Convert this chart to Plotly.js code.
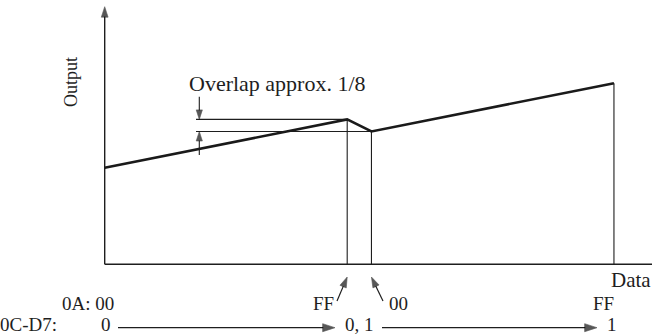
<!DOCTYPE html>
<html><head><meta charset="utf-8">
<script src="https://cdn.plot.ly/plotly-3.0.1.min.js"></script>
<style>html,body{margin:0;padding:0;background:#fff}#chart{width:652px;height:335px}</style>
</head><body><div id="chart"></div>
<script>
// ---- data (Data input in segment units, Output level) ----
const dataX = [0, 1, 1.1, 2.1];
const outputY = [2, 3, 2.75, 3.75];
// ---- text ----
const axisTitleY = 'Output';
const axisTitleX = 'Data';
const overlapNote = 'Overlap approx. 1/8';
const rowA = '0A: 00';
const rowATicks = ['FF', '00', 'FF'];
const rowCLabel = '0C-D7:';
const rowCTicks = ['0', '0, 1', '1'];

// ---- layout helpers (pixel -> data for decorations) ----
const X0PX = 104.7, XUNIT = 242.5, Y0PX = 264.3, YUNIT = 48.3;
const W = 652, H = 335;
const X = px => (px - X0PX) / XUNIT;
const Y = py => (Y0PX - py) / YUNIT;
const xRange = [X(0), X(W)];
const yRange = [Y(H), Y(0)];

const INK = '#1e1e1e';
const FONT = 'Liberation Serif, Times New Roman, serif';

function seg(xs, ys, w) {
  return {type:'scatter', mode:'lines', x:xs, y:ys, line:{color:INK, width:w},
          hoverinfo:'skip', showlegend:false, cliponaxis:false};
}
function arrow(xs, ys, w, size) {
  return {type:'scatter', mode:'lines+markers', x:xs, y:ys,
          line:{color:INK, width:w},
          marker:{symbol:['circle','arrow'], size:[0,size], angleref:'previous', color:'#111',
                  line:{width:0.6, color:'#111'}},
          hoverinfo:'skip', showlegend:false, cliponaxis:false};
}

const traces = [];
// axes
traces.push(arrow([0, 0], [0, Y(6.7)], 1.4, 11));
traces.push(seg([0, xRange[1]], [0, 0], 1.4));
// vertical drop lines from key points
[1, 2, 3].forEach(i => traces.push(seg([dataX[i], dataX[i]], [0, outputY[i]], 1.1)));
// overlap dimension lines
const dimX = X(196), dimArrowX = X(199.3);
traces.push(seg([dimX, dataX[1]], [outputY[1], outputY[1]], 1.1));
traces.push(seg([dimX, dataX[2]], [outputY[2], outputY[2]], 1.1));
traces.push(arrow([dimArrowX, dimArrowX], [Y(96.7), outputY[1]], 1.1, 10));
traces.push(arrow([dimArrowX, dimArrowX], [Y(155), outputY[2]], 1.1, 10));
// main output line
traces.push({type:'scatter', mode:'lines', x:dataX, y:outputY,
  line:{color:'#1a1a1a', width:2.6}, hoverinfo:'skip', showlegend:false, cliponaxis:false});
// pointer arrows (FF / 00 boundaries)
traces.push(arrow([X(337), dataX[1]], [Y(301), Y(277)], 1.2, 11));
traces.push(arrow([X(383), dataX[2]], [Y(301), Y(277)], 1.2, 11));
// range arrows in 0C-D7 row
const rowCY = Y(327.7);
traces.push(arrow([X(118), X(335)], [rowCY, rowCY], 1.2, 13));
traces.push(arrow([X(382), X(597)], [rowCY, rowCY], 1.2, 13));

function txt(text, x, y, xanchor, size, extra) {
  return Object.assign({text:text, x:x, y:y, xref:'x', yref:'y', showarrow:false,
    borderpad:0, borderwidth:0,
    xanchor:xanchor, yanchor:'middle', font:{family:FONT, size:size||22, color:INK}}, extra||{});
}
const RS = 19;
const rowAY = Y(303.6), rowCtY = Y(335);
const bot = {yanchor:'bottom'};
const annotations = [
  txt(axisTitleY, X(70.5), Y(82.5), 'center', 18, {textangle:-90}),
  txt(overlapNote, X(189), Y(83.3), 'left', 22),
  txt(axisTitleX, X(651), Y(280), 'right', 21),
  txt(rowA, X(114), rowAY, 'right', RS),
  txt(rowATicks[0], X(334), rowAY, 'right', RS),
  txt(rowATicks[1], X(389), rowAY, 'left', RS),
  txt(rowATicks[2], X(603.5), rowAY, 'center', RS),
  txt(rowCLabel, xRange[0], rowCtY, 'left', RS, bot),
  txt(rowCTicks[0], dataX[0] + X(106) - X(X0PX), rowCtY, 'center', RS, bot),
  txt(rowCTicks[1], (dataX[1] + dataX[2]) / 2, rowCtY, 'center', RS, bot),
  txt(rowCTicks[2], X(612), rowCtY, 'center', RS, bot)
];

const layout = {
  width:W, height:H, margin:{l:0, r:0, t:0, b:0},
  paper_bgcolor:'#fff', plot_bgcolor:'#fff',
  xaxis:{range:xRange, visible:false, fixedrange:true},
  yaxis:{range:yRange, visible:false, fixedrange:true},
  showlegend:false, annotations:annotations
};
Plotly.newPlot('chart', traces, layout, {staticPlot:true, displayModeBar:false});
</script>
</body></html>
